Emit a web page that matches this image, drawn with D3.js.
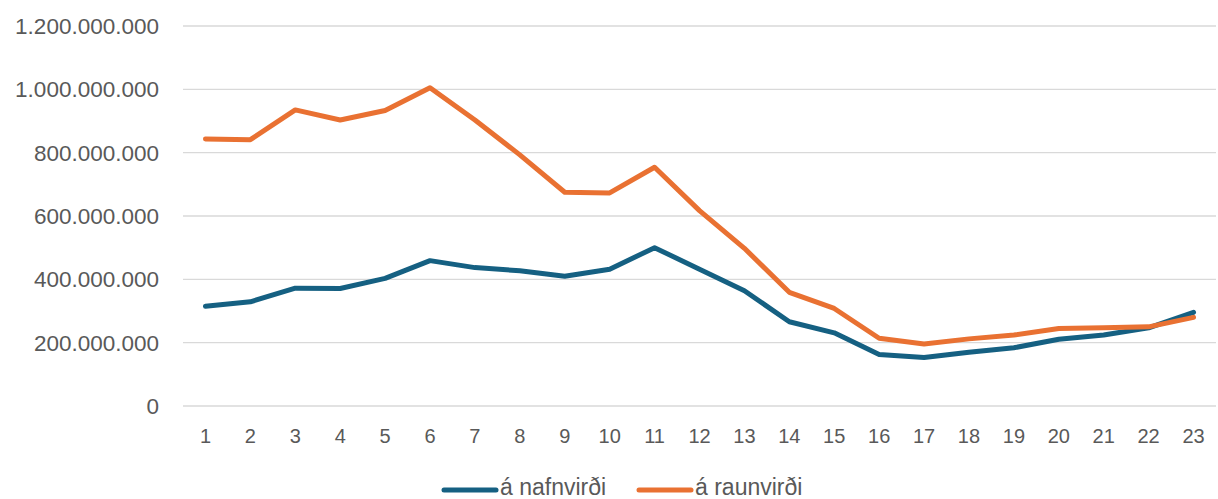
<!DOCTYPE html>
<html>
<head>
<meta charset="utf-8">
<script src="https://cdn.jsdelivr.net/npm/d3@7"></script>
<style>
  body { margin: 0; background: #fff; }
  text { font-family: "Liberation Sans", Arial, sans-serif; fill: #595959; }
</style>
</head>
<body>
<div id="chart"></div>
<script>
const categories = d3.range(1, 24).map(String);

const nafnvirdi = [
  315e6, 329e6, 372e6, 371e6, 403e6, 459e6, 437e6, 427e6, 410e6, 432e6,
  500e6, 432e6, 364e6, 266e6, 231e6, 163e6, 153e6, 170e6, 184e6, 211e6,
  224e6, 247e6, 296e6
];

const raunvirdi = [
  843e6, 841e6, 935e6, 903e6, 933e6, 1005e6, 903e6, 793e6, 675e6, 673e6,
  754e6, 617e6, 498e6, 359e6, 308e6, 214e6, 196e6, 212e6, 224e6, 245e6,
  247e6, 250e6, 280e6
];

const yTicks = [0, 200e6, 400e6, 600e6, 800e6, 1000e6, 1200e6];

const series = [
  {name: "á nafnvirði", values: nafnvirdi, color: "#156082"},
  {name: "á raunvirði", values: raunvirdi, color: "#E97132"}
];

const width = 1218, height = 499;
const margin = {top: 26, right: 2, bottom: 93, left: 183};

const svg = d3.select("#chart").append("svg")
    .attr("width", width)
    .attr("height", height);

const x = d3.scaleBand()
    .domain(categories)
    .range([margin.left, width - margin.right]);

const y = d3.scaleLinear()
    .domain([0, 1200e6])
    .range([height - margin.bottom, margin.top]);

// dots as thousands separators
const fmt = d3.formatLocale({decimal: ",", thousands: ".", grouping: [3], currency: ["", " kr."]}).format(",.0f");

// gridlines
svg.append("g")
    .selectAll("line")
    .data(yTicks)
    .enter().append("line")
    .attr("x1", margin.left)
    .attr("x2", width - margin.right)
    .attr("y1", d => y(d))
    .attr("y2", d => y(d))
    .attr("stroke", "#d9d9d9")
    .attr("stroke-width", 1.3);

// y axis labels
svg.append("g")
    .selectAll("text")
    .data(yTicks)
    .enter().append("text")
    .attr("x", 159)
    .attr("y", d => y(d))
    .attr("dy", "0.36em")
    .attr("text-anchor", "end")
    .style("font-size", "22.5px")
    .text(d => fmt(d));

// x axis labels
svg.append("g")
    .selectAll("text")
    .data(categories)
    .enter().append("text")
    .attr("x", d => x(d) + x.bandwidth() / 2)
    .attr("y", 443)
    .attr("text-anchor", "middle")
    .style("font-size", "20px")
    .text(d => d);

const line = d3.line()
    .x((d, i) => x(categories[i]) + x.bandwidth() / 2)
    .y(d => y(d));

svg.append("g")
    .selectAll("path")
    .data(series)
    .enter().append("path")
    .attr("d", d => line(d.values))
    .attr("fill", "none")
    .attr("stroke", d => d.color)
    .attr("stroke-width", 5)
    .attr("stroke-linejoin", "round")
    .attr("stroke-linecap", "round");

// legend
const legendX = [444, 639];
const legend = svg.append("g")
    .selectAll("g")
    .data(series)
    .enter().append("g")
    .attr("transform", (d, i) => `translate(${legendX[i]},490)`);

legend.append("line")
    .attr("x1", 0).attr("x2", 52)
    .attr("stroke", d => d.color)
    .attr("stroke-width", 5)
    .attr("stroke-linecap", "round");

legend.append("text")
    .attr("x", 56)
    .attr("y", 5)
    .style("font-size", "23px")
    .text(d => d.name);
</script>
</body>
</html>
